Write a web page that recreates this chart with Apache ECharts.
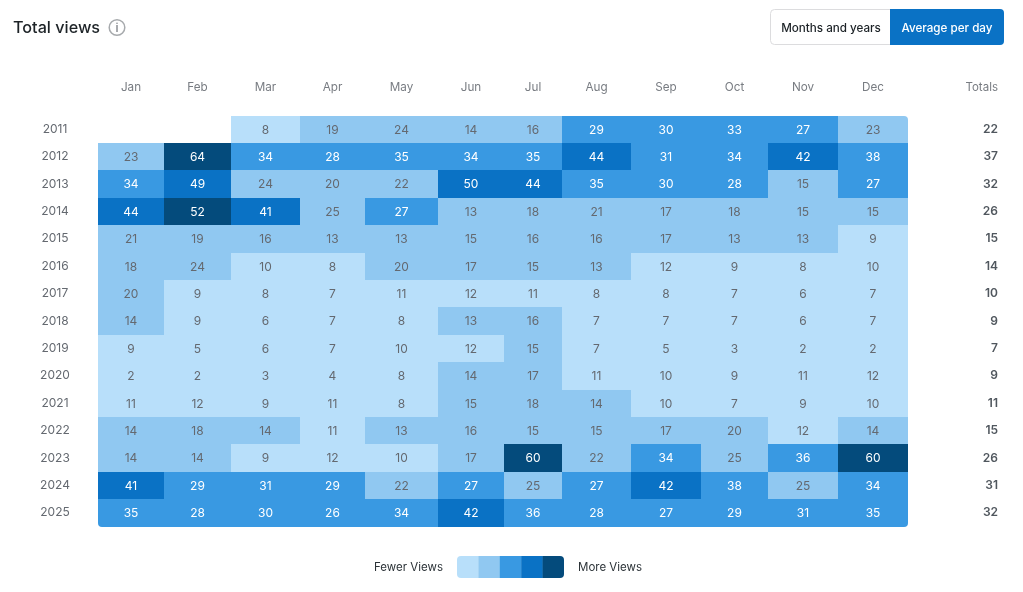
<!DOCTYPE html>
<html>
<head>
<meta charset="utf-8">
<style>html,body{margin:0;padding:0;background:#fff}#c{width:1023px;height:592px}</style>
<script src="https://cdn.jsdelivr.net/npm/echarts@6/dist/echarts.min.js"></script>
</head>
<body>
<div id="c"></div>
<script>
const months = ['Jan','Feb','Mar','Apr','May','Jun','Jul','Aug','Sep','Oct','Nov','Dec'];
const years = ['2011','2012','2013','2014','2015','2016','2017','2018','2019','2020','2021','2022','2023','2024','2025'];
const totals = ['22','37','32','26','15','14','10','9','7','9','11','15','26','31','32'];
const v2011 = [null,null,8,19,24,14,16,29,30,33,27,23];
const v2012 = [23,64,34,28,35,34,35,44,31,34,42,38];
const v2013 = [34,49,24,20,22,50,44,35,30,28,15,27];
const v2014 = [44,52,41,25,27,13,18,21,17,18,15,15];
const v2015 = [21,19,16,13,13,15,16,16,17,13,13,9];
const v2016 = [18,24,10,8,20,17,15,13,12,9,8,10];
const v2017 = [20,9,8,7,11,12,11,8,8,7,6,7];
const v2018 = [14,9,6,7,8,13,16,7,7,7,6,7];
const v2019 = [9,5,6,7,10,12,15,7,5,3,2,2];
const v2020 = [2,2,3,4,8,14,17,11,10,9,11,12];
const v2021 = [11,12,9,11,8,15,18,14,10,7,9,10];
const v2022 = [14,18,14,11,13,16,15,15,17,20,12,14];
const v2023 = [14,14,9,12,10,17,60,22,34,25,36,60];
const v2024 = [41,29,31,29,22,27,25,27,42,38,25,34];
const v2025 = [35,28,30,26,34,42,36,28,27,29,31,35];
const rows = [v2011,v2012,v2013,v2014,v2015,v2016,v2017,v2018,v2019,v2020,v2021,v2022,v2023,v2024,v2025];

// Layout: the source table sizes its columns to content, so they are not equal.
const columnWidths = [66,67,69,65,73,66,58,69,70,67,70,70];
const colours = ['#b8dffa','#90c8f1','#3999e2','#0a72c5','#044b7c'];
const FONT = 'Inter, "Noto Sans", sans-serif';

const edges = [0];
columnWidths.forEach(w => edges.push(edges[edges.length - 1] + w));
const centres = columnWidths.map((w, i) => edges[i] + w / 2);
const tableWidth = edges[edges.length - 1];

const cells = [];
rows.forEach((row, r) => row.forEach((val, m) => {
  if (val !== null) cells.push([edges[m], edges[m + 1], r, val, m]);
}));

function renderCell(params, api) {
  const r = api.value(2), val = api.value(3), m = api.value(4);
  const a = api.coord([api.value(0), r]);
  const b = api.coord([api.value(1), r]);
  const h = api.size([0, 1])[1];
  const top = Math.round(a[1] - h / 2 + 0.01), bottom = Math.round(a[1] + h / 2 + 0.01);
  const last = rows.length - 1;
  const radius = [
    0,
    r === 0 && m === 11 ? 4 : 0,
    r === last && m === 11 ? 4 : 0,
    r === last && m === 0 ? 4 : 0
  ];
  return {
    type: 'group',
    children: [
      {
        type: 'rect',
        shape: { x: a[0], y: top, width: b[0] - a[0], height: bottom - top, r: radius },
        style: { fill: api.visual('color'), stroke: null, lineWidth: 0 }
      },
      {
        type: 'text',
        x: (a[0] + b[0]) / 2,
        y: a[1] + 0.7,
        style: {
          text: String(val),
          align: 'center',
          verticalAlign: 'middle',
          font: '12px ' + FONT,
          fill: val > 25 ? '#ffffff' : '#646970',
          stroke: null,
          lineWidth: 0
        }
      }
    ]
  };
}

const LX = 457, LY = 556, LW = 21.4, LH = 22;
const legendRects = colours.map((c, i) => ({
  type: 'rect',
  shape: { x: LX + i * LW, y: LY, width: LW + (i < 4 ? 0.3 : 0), height: LH,
           r: i === 0 ? [4,0,0,4] : i === 4 ? [0,4,4,0] : 0 },
  style: { fill: c }
}));

const chart = echarts.init(document.getElementById('c'), null, { renderer: 'canvas' });
chart.setOption({
  animation: false,
  backgroundColor: '#ffffff',
  grid: { left: 98, top: 115.5, width: tableWidth, height: 411, containLabel: false },
  xAxis: {
    type: 'value', position: 'top', min: 0, max: tableWidth,
    axisLine: { show: false }, axisTick: { show: false }, splitLine: { show: false },
    axisLabel: {
      customValues: centres,
      formatter: v => months[centres.indexOf(v)],
      margin: 22, color: '#787c82', fontSize: 11.7, fontFamily: FONT, hideOverlap: false
    }
  },
  yAxis: [
    {
      type: 'category', inverse: true, data: years,
      axisLine: { show: false }, axisTick: { show: false }, splitLine: { show: false },
      axisLabel: { align: 'center', margin: 43, color: '#646970', fontSize: 12, fontFamily: FONT, interval: 0, padding: [2,0,0,0] }
    },
    {
      type: 'category', inverse: true, position: 'right', data: totals,
      axisLine: { show: false }, axisTick: { show: false }, splitLine: { show: false },
      axisLabel: { align: 'right', margin: 90, color: '#50575e', fontSize: 12, fontWeight: 600, fontFamily: FONT, interval: 0, padding: [2,0,0,0] }
    }
  ],
  visualMap: {
    show: false, type: 'piecewise', dimension: 3, seriesIndex: 0,
    pieces: [
      { min: 0, max: 12, color: colours[0] },
      { min: 13, max: 25, color: colours[1] },
      { min: 26, max: 40, color: colours[2] },
      { min: 41, max: 50, color: colours[3] },
      { min: 51, color: colours[4] }
    ]
  },
  series: [{
    type: 'custom',
    coordinateSystem: 'cartesian2d',
    renderItem: renderCell,
    encode: { x: [0, 1], y: 2 },
    data: cells,
    clip: false
  }],
  graphic: [
    { type: 'text', x: 13, y: 28.5, style: { text: 'Total views', font: '500 16.2px ' + FONT, fill: '#1d2327', align: 'left', verticalAlign: 'middle' } },
    { type: 'circle', shape: { cx: 117, cy: 27.5, r: 7.8 }, style: { fill: 'none', stroke: '#a7aaad', lineWidth: 1.5 } },
    { type: 'text', x: 117, y: 28.5, style: { text: 'i', font: '600 11.5px ' + FONT, fill: '#8c8f94', align: 'center', verticalAlign: 'middle' } },
    { type: 'rect', shape: { x: 770.5, y: 9.5, width: 126, height: 35, r: 4 }, style: { fill: '#ffffff', stroke: '#dcdcde', lineWidth: 1 } },
    { type: 'rect', shape: { x: 890, y: 9, width: 114, height: 36, r: [0,4,4,0] }, style: { fill: '#0a72c5' } },
    { type: 'text', x: 831, y: 28, style: { text: 'Months and years', font: '500 11.65px ' + FONT, fill: '#1d2327', align: 'center', verticalAlign: 'middle' } },
    { type: 'text', x: 947, y: 28, style: { text: 'Average per day', font: '500 11.65px ' + FONT, fill: '#ffffff', align: 'center', verticalAlign: 'middle' } },
    { type: 'text', x: 998, y: 87.5, style: { text: 'Totals', font: '11.5px ' + FONT, fill: '#787c82', align: 'right', verticalAlign: 'middle' } },
    { type: 'text', x: 374, y: 567.5, style: { text: 'Fewer Views', font: '11.5px ' + FONT, fill: '#2c3338', align: 'left', verticalAlign: 'middle' } },
    { type: 'text', x: 578, y: 567.5, style: { text: 'More Views', font: '11.5px ' + FONT, fill: '#2c3338', align: 'left', verticalAlign: 'middle' } }
  ].concat(legendRects)
});
</script>
</body>
</html>
